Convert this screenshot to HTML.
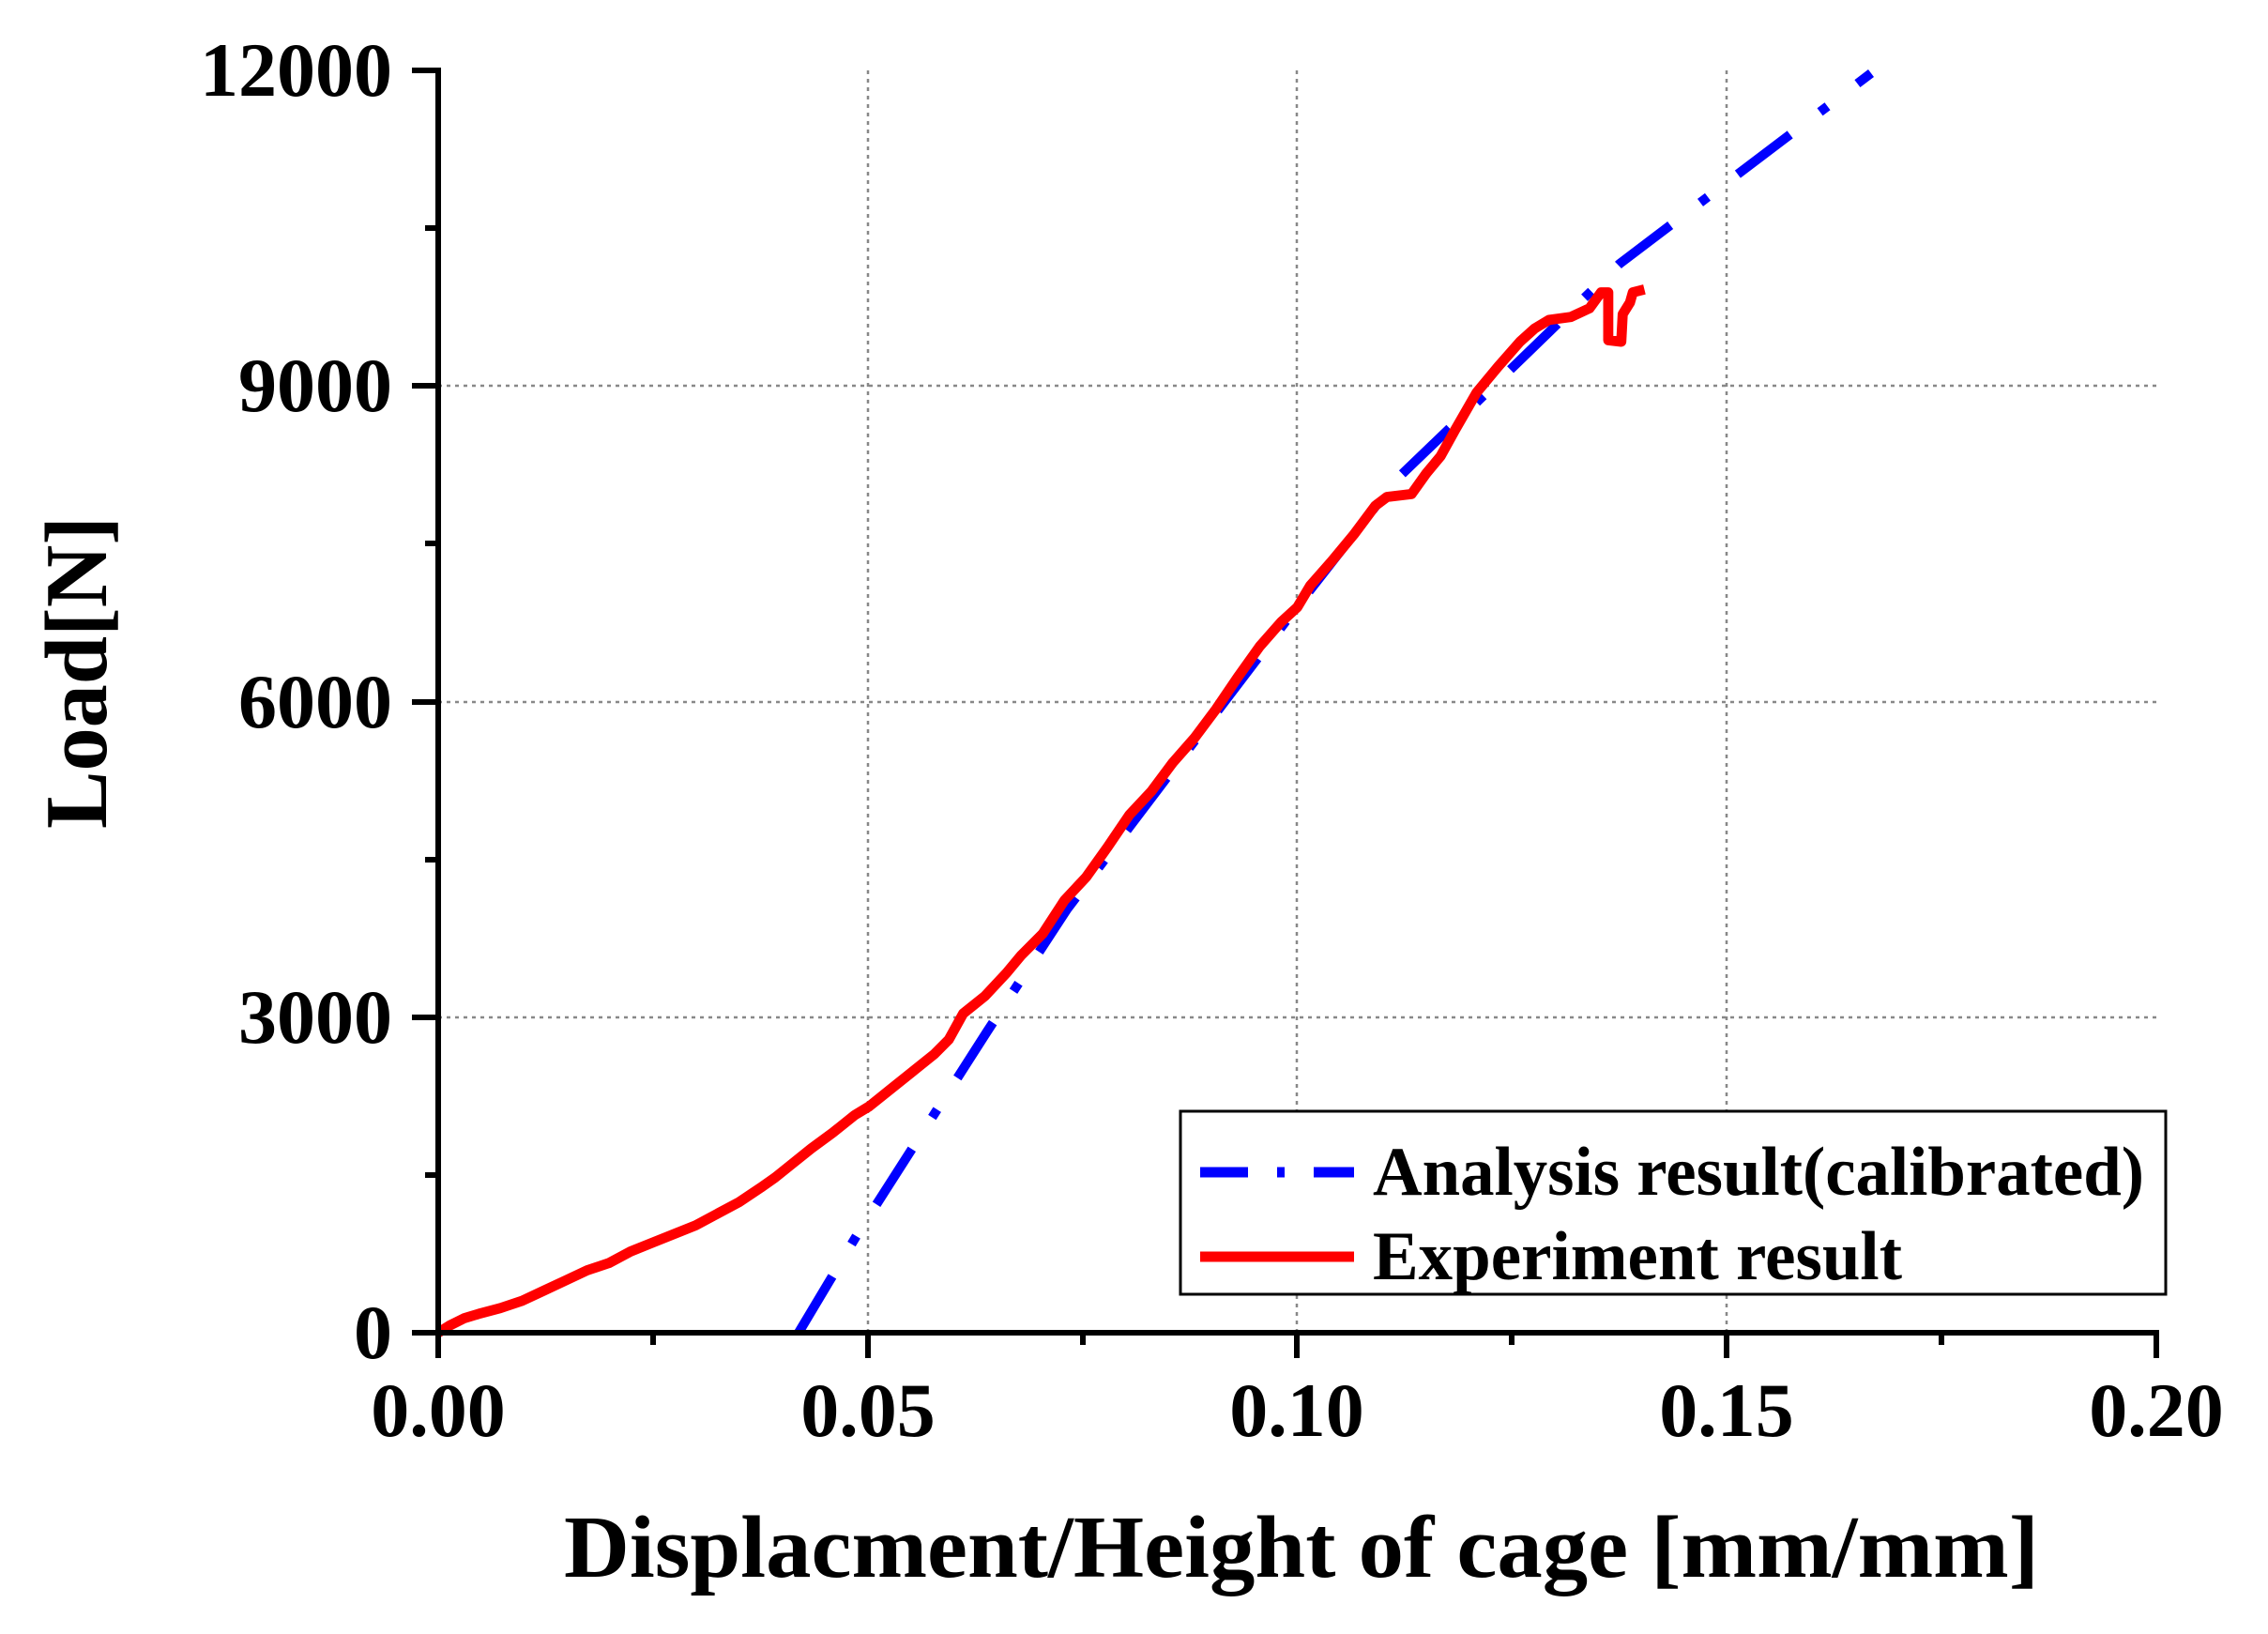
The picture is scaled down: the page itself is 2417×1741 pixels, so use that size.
<!DOCTYPE html>
<html><head><meta charset="utf-8"><style>html,body{margin:0;padding:0;background:#fff}svg{display:block}</style></head>
<body>
<svg width="2417" height="1741" viewBox="0 0 2417 1741" xmlns="http://www.w3.org/2000/svg" font-family="'Liberation Serif', serif" font-weight="bold">
<rect width="2417" height="1741" fill="#fff"/>
<!-- grid -->
<g stroke="#888" stroke-width="2.5" stroke-dasharray="4,5">
<line x1="925" y1="75" x2="925" y2="1418"/>
<line x1="1382" y1="75" x2="1382" y2="1418"/>
<line x1="1840" y1="75" x2="1840" y2="1418"/>
<line x1="467" y1="1084" x2="2298" y2="1084"/>
<line x1="467" y1="748" x2="2298" y2="748"/>
<line x1="467" y1="411" x2="2298" y2="411"/>
</g>
<!-- blue analysis line -->
<polyline fill="none" points="851,1420 915,1313 1052,1099 1137,969 1259,808 1381,648 1489,510 1565,437 1726,281 1994,78" stroke="#0000ff" stroke-width="10" stroke-dasharray="70,40,10,40"/>
<!-- red experiment -->
<g transform="translate(467,1420) scale(1.5413,1.546) translate(-302,-920)">
<polyline fill="none" stroke="#ff0000" stroke-width="7" stroke-linejoin="round" points="302,920 310,915 320,910 330,907 345,903 360,898 375,891 390,884 405,877 420,872 435,864 450,858 465,852 480,846 495,838 510,830 525,820 535,813 545,805 560,793 575,782 590,770 600,764 615,752 630,740 645,728 655,718 665,700 680,688 695,672 705,660 720,645 735,622 750,606 765,585 780,563 795,547 810,527 825,510 840,490 855,468 870,447 885,430 896,420 905,405 920,388 935,370 950,350 958,344 975,342 985,328 995,316 1005,298 1020,272 1035,254 1050,237 1060,228 1070,222 1085,220 1098,214 1106,203 1111,203 1111,236 1120,237 1121,218 1126,210 1128,203 1136,201"/>
</g>
<!-- axes -->
<g stroke="#000" stroke-width="6">
<line x1="467" y1="72" x2="467" y2="1447"/>
<line x1="439" y1="1420" x2="2301" y2="1420"/>
<line x1="439" y1="75" x2="467" y2="75"/>
<line x1="439" y1="411" x2="467" y2="411"/>
<line x1="439" y1="748" x2="467" y2="748"/>
<line x1="439" y1="1084" x2="467" y2="1084"/>
<line x1="453" y1="243" x2="467" y2="243"/>
<line x1="453" y1="579" x2="467" y2="579"/>
<line x1="453" y1="916" x2="467" y2="916"/>
<line x1="453" y1="1252" x2="467" y2="1252"/>
<line x1="925" y1="1420" x2="925" y2="1447"/>
<line x1="1382" y1="1420" x2="1382" y2="1447"/>
<line x1="1840" y1="1420" x2="1840" y2="1447"/>
<line x1="2298" y1="1417" x2="2298" y2="1447"/>
<line x1="696" y1="1420" x2="696" y2="1433"/>
<line x1="1154" y1="1420" x2="1154" y2="1433"/>
<line x1="1611" y1="1420" x2="1611" y2="1433"/>
<line x1="2069" y1="1420" x2="2069" y2="1433"/>
</g>
<!-- y tick labels -->
<g font-size="82" text-anchor="end">
<text x="418" y="102">12000</text>
<text x="418" y="438">9000</text>
<text x="418" y="775">6000</text>
<text x="418" y="1111">3000</text>
<text x="418" y="1447">0</text>
</g>
<!-- x tick labels -->
<g font-size="82" text-anchor="middle">
<text x="467" y="1530">0.00</text>
<text x="925" y="1530">0.05</text>
<text x="1382" y="1530">0.10</text>
<text x="1840" y="1530">0.15</text>
<text x="2298" y="1530">0.20</text>
</g>
<!-- axis titles -->
<text x="601" y="1680" font-size="94" textLength="1572" lengthAdjust="spacingAndGlyphs">Displacment/Height of cage [mm/mm]</text>
<text transform="translate(113,883) rotate(-90)" font-size="94" textLength="333" lengthAdjust="spacingAndGlyphs">Load[N]</text>
<!-- legend -->
<rect x="1258" y="1184" width="1050" height="195" fill="#fff" stroke="#000" stroke-width="3"/>
<line x1="1279" y1="1249" x2="1443" y2="1249" stroke="#0000ff" stroke-width="11" stroke-dasharray="51,31,8,31"/>
<line x1="1279" y1="1339" x2="1443" y2="1339" stroke="#ff0000" stroke-width="11"/>
<text x="1463" y="1273" font-size="74" textLength="822" lengthAdjust="spacingAndGlyphs">Analysis result(calibrated)</text>
<text x="1463" y="1363" font-size="74" textLength="564" lengthAdjust="spacingAndGlyphs">Experiment result</text>
</svg>
</body></html>
